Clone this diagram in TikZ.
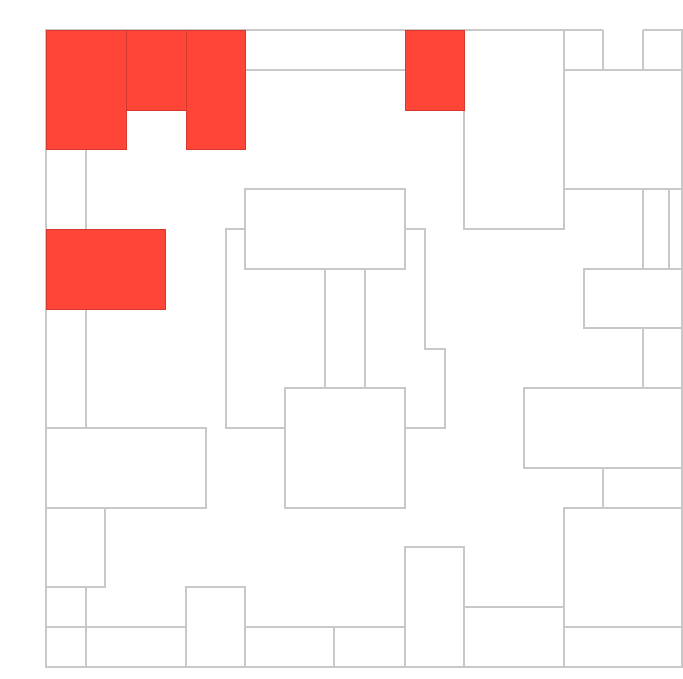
\documentclass[tikz,border=0pt]{standalone}
\definecolor{wallc}{RGB}{200,200,200}
\definecolor{hot}{RGB}{255,69,56}
\definecolor{hotedge}{RGB}{214,56,46}
\begin{document}
\begin{tikzpicture}[x=1pt,y=-1pt,
  wall/.style={draw=wallc,line width=1.2pt},
  hotbox/.style={fill=hot,draw=hotedge,line width=0.8pt}]
\useasboundingbox (0,0) rectangle (683,678);
\fill[white] (0,0) rectangle (683,678);
% outer frame (gap at top right)
\draw[wall] (603,30) -- (46,30) -- (46,667) -- (682,667) -- (682,30) -- (643,30);
% top strip
\draw[wall] (245,70) -- (405,70);
% tall box top middle
\draw[wall] (464,30) rectangle (564,229);
% right column
\draw[wall] (603,30) -- (603,70);
\draw[wall] (643,30) -- (643,70);
\draw[wall] (564,70) -- (682,70);
\draw[wall] (564,189) -- (682,189);
\draw[wall] (643,189) -- (643,269);
\draw[wall] (669,189) -- (669,269);
\draw[wall] (584,269) rectangle (682,328);
\draw[wall] (643,328) -- (643,388);
\draw[wall] (524,388) rectangle (682,468);
\draw[wall] (603,468) -- (603,508);
\draw[wall] (564,508) rectangle (682,667);
\draw[wall] (564,627) -- (682,627);
\draw[wall] (464,607) rectangle (564,667);
\draw[wall] (405,547) rectangle (464,667);
% bottom left
\draw[wall] (46,627) -- (186,627);
\draw[wall] (245,627) -- (405,627);
\draw[wall] (186,587) rectangle (245,667);
\draw[wall] (334,627) -- (334,667);
\draw[wall] (86,587) -- (86,667);
\draw[wall] (46,508) rectangle (105,587);
\draw[wall] (46,428) rectangle (206,508);
\draw[wall] (86,149) -- (86,229);
\draw[wall] (86,309) -- (86,428);
% centre
\draw[wall] (245,189) rectangle (405,269);
\draw[wall] (245,229) -- (226,229) -- (226,428) -- (285,428);
\draw[wall] (405,229) -- (425,229) -- (425,349) -- (445,349) -- (445,428) -- (405,428);
\draw[wall] (285,388) rectangle (405,508);
\draw[wall] (325,269) -- (325,388);
\draw[wall] (365,269) -- (365,388);
% red blocks
\draw[hotbox] (46,30) rectangle (126,149);
\draw[hotbox] (126,30) rectangle (186,110);
\draw[hotbox] (186,30) rectangle (245,149);
\draw[hotbox] (405,30) rectangle (464,110);
\draw[hotbox] (46,229) rectangle (165,309);
\end{tikzpicture}
\end{document}
